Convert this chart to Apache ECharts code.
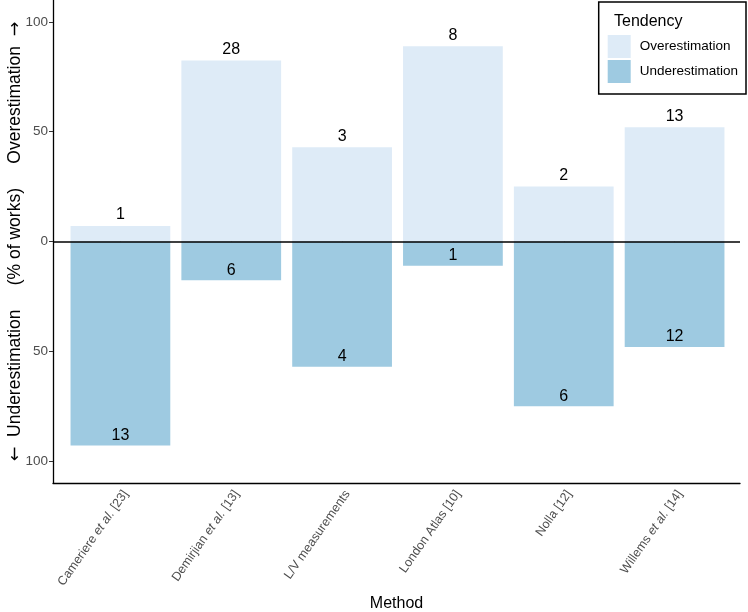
<!DOCTYPE html>
<html><head><meta charset="utf-8">
<script src="https://cdn.jsdelivr.net/npm/echarts@6/dist/echarts.min.js"></script>
<style>html,body{margin:0;padding:0;background:#fff}#c{width:748px;height:612px}</style>
</head><body><div id="c"></div>
<script>
const categories = ['Cameriere et al. [23]', 'Demirjian et al. [13]', 'L/V measurements', 'London Atlas [10]', 'Nolla [12]', 'Willems et al. [14]'];
const overPct = [7.1, 82.4, 42.9, 88.9, 25.0, 52.0];
const underPct = [-92.9, -17.6, -57.1, -11.1, -75.0, -48.0];
const overN = [1, 28, 3, 8, 2, 13];
const underN = [13, 6, 4, 1, 6, 12];
const yTicks = [-100, -50, 0, 50, 100];

const FONT = 'Liberation Sans, Arial, sans-serif';
const chart = echarts.init(document.getElementById('c'));
chart.setOption({
  animation: false,
  textStyle: { fontFamily: FONT },
  title: { text: 'Tendency', left: 609, top: 9, textStyle: { fontFamily: FONT, fontSize: 16, fontWeight: 'normal', color: '#000' } },
  legend: {
    orient: 'vertical', right: 2, top: 2,
    padding: [33, 8, 11, 9],
    borderColor: '#000', borderWidth: 1.5,
    itemWidth: 23, itemHeight: 23, itemGap: 2, icon: 'rect',
    textStyle: { fontFamily: FONT, fontSize: 13.5, color: '#000', padding: [0, 0, 0, 4] },
    data: ['Overestimation', 'Underestimation']
  },
  grid: [
    { left: 65, right: 18, top: 0, bottom: 129, outerBoundsMode: 'none', containLabel: false },
    { left: 53, right: 8, top: 0, bottom: 129, outerBoundsMode: 'none', containLabel: false }
  ],
  xAxis: [
    { type: 'category', gridIndex: 0, data: categories,
      axisLine: { show: false },
      axisTick: { show: true, alignWithLabel: true, length: 4, lineStyle: { color: '#333' } },
      axisLabel: { rotate: 55, margin: 5, fontSize: 12.5, color: '#4d4d4d', fontFamily: FONT,
        verticalAlign: 'top',
        formatter: v => v.replace('et al.', '{i|et al.}'),
        rich: { i: { fontStyle: 'italic', fontSize: 12.5, color: '#4d4d4d', fontFamily: FONT } } }
    },
    { type: 'value', gridIndex: 1, min: 0, max: 1,
      axisLine: { show: true, onZero: false, lineStyle: { color: '#000', width: 1.3 } },
      axisTick: { show: false }, axisLabel: { show: false }, splitLine: { show: false },
      name: 'Method', nameLocation: 'middle', nameGap: 113, nameMoveOverlap: false,
      nameTextStyle: { fontSize: 16, color: '#000', fontFamily: FONT }
    }
  ],
  yAxis: [
    { type: 'value', gridIndex: 0, min: -110, max: 110, show: false },
    { type: 'value', gridIndex: 1, min: -110, max: 110,
      axisLine: { show: true, onZero: false, lineStyle: { color: '#000', width: 1.3 } },
      axisTick: { show: true, length: 4, lineStyle: { color: '#333' }, customValues: yTicks },
      axisLabel: { fontSize: 13.5, color: '#4d4d4d', margin: 5, fontFamily: FONT, customValues: yTicks,
        formatter: v => String(Math.abs(v)) },
      splitLine: { show: false },
      name: '{a|\u2190}  Underestimation     (% of works)     Overestimation  {a|\u2192}',
      nameLocation: 'middle', nameRotate: 90, nameGap: 29, nameMoveOverlap: false,
      nameTextStyle: { fontSize: 17.5, color: '#000', fontFamily: FONT,
        rich: { a: { fontFamily: 'DejaVu Sans', fontSize: 17.5, color: '#000' } } }
    }
  ],
  series: [
    { name: 'Overestimation', type: 'bar', xAxisIndex: 0, yAxisIndex: 0, data: overPct,
      barCategoryGap: '10%', barGap: '-100%',
      itemStyle: { color: '#deebf7' },
      label: { show: true, position: 'top', distance: 3, fontSize: 16, color: '#000', fontFamily: FONT,
        formatter: p => String(overN[p.dataIndex]) } },
    { name: 'Underestimation', type: 'bar', xAxisIndex: 0, yAxisIndex: 0, data: underPct,
      barCategoryGap: '10%', barGap: '-100%',
      itemStyle: { color: '#9ecae1' },
      label: { show: true, position: 'insideBottom', distance: 2, fontSize: 16, color: '#000', fontFamily: FONT,
        formatter: p => String(underN[p.dataIndex]) } },
    { type: 'line', xAxisIndex: 1, yAxisIndex: 1, data: [], silent: true,
      markLine: { symbol: 'none', silent: true, label: { show: false },
        lineStyle: { color: '#000', width: 1.5, type: 'solid' }, data: [{ yAxis: 0 }] } }
  ]
});
</script></body></html>
